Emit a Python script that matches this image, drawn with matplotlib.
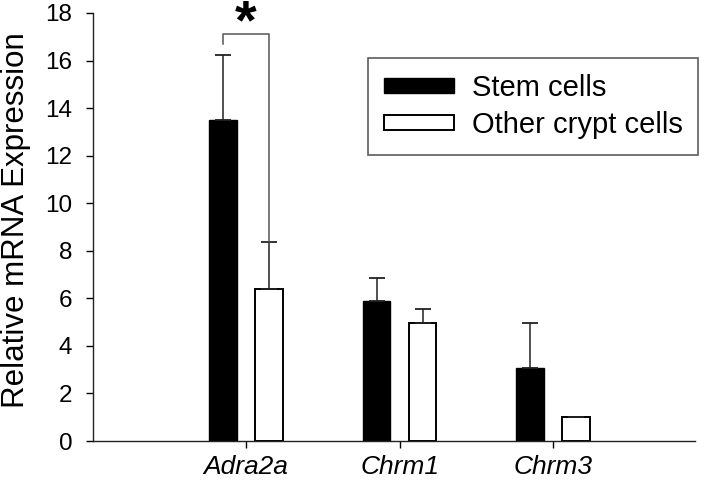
import matplotlib
matplotlib.use('Agg')
import matplotlib.pyplot as plt
import numpy as np

plt.rcParams['font.family'] = ['Liberation Sans', 'DejaVu Sans']

genes = ['Adra2a', 'Chrm1', 'Chrm3']
stem_mean = [13.5, 5.9, 3.05]
stem_err = [2.75, 0.95, 1.9]
other_mean = [6.4, 4.95, 1.0]
other_err = [1.95, 0.6, 0.03]

x = np.arange(len(genes))
w = 0.18
off = 0.15

fig = plt.figure(figsize=(7.09, 4.8), dpi=100)
ax = fig.add_axes([0.1312, 0.08125, 0.8491, 0.8917])

zeros = [0] * len(genes)
ekw = dict(ecolor='#222222', elinewidth=1.1, capsize=6, capthick=1.3)
ax.bar(x - off, stem_mean, w, color='black', edgecolor='black', linewidth=1,
       yerr=[zeros, stem_err], error_kw=ekw, label='Stem cells')
ax.bar(x + off, other_mean, w, color='white', edgecolor='black', linewidth=1.4,
       yerr=[zeros, other_err], error_kw=ekw, label='Other crypt cells')

# significance bracket
ax.plot([-off, -off, off, off], [16.7, 17.1, 17.1, other_mean[0] + other_err[0]],
        color='#555555', lw=1.1, clip_on=False)
ax.text(0, 16.95, '*', ha='center', va='baseline', fontsize=40, fontweight='bold', clip_on=False)

ax.set_xlim(-0.997, 2.925)
ax.set_ylim(0, 18)
ax.set_yticks(range(0, 19, 2))
ax.set_xticks(x)
ax.set_xticklabels(genes, fontstyle='italic', fontsize=19)
ax.tick_params(axis='y', labelsize=17.5, length=5, width=1, direction='out', pad=10)
ax.tick_params(axis='x', length=5, width=1, direction='out', pad=5)
ax.set_ylabel('Relative mRNA Expression', fontsize=22.5)
ax.yaxis.set_label_coords(-0.103, 0.516)

for s in ['top', 'right']:
    ax.spines[s].set_visible(False)
for s in ['left', 'bottom']:
    ax.spines[s].set_linewidth(1)
    ax.spines[s].set_color('#222222')

leg = ax.legend(loc='upper left', bbox_to_anchor=(0.519, 0.879), bbox_transform=fig.transFigure,
                fontsize=21, frameon=True, fancybox=False, edgecolor='#333333',
                handlelength=2.4, handleheight=0.4, handletextpad=0.6,
                borderpad=0.55, labelspacing=0.3, borderaxespad=0)
leg.get_frame().set_linewidth(1.2)

fig.savefig('out.png', dpi=100)
